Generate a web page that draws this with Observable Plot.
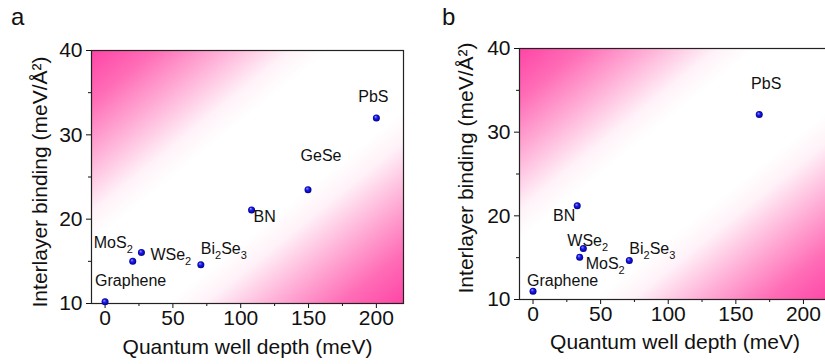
<!DOCTYPE html>
<html><head><meta charset="utf-8">
<script src="https://cdn.jsdelivr.net/npm/d3@7"></script>
<script src="https://cdn.jsdelivr.net/npm/@observablehq/plot@0.6"></script>
<style>
html,body{margin:0;padding:0;background:#fff;overflow:hidden;}
#wrap{position:relative;width:825px;height:364px;overflow:hidden;font-family:"Liberation Sans",Arial,sans-serif;color:#111;}
.panel{position:absolute;top:0;}
.tag{position:absolute;top:5px;font-size:24px;line-height:24px;color:#111;}
</style>
</head><body>
<div id="wrap">
  <div class="tag" style="left:11px">a</div>
  <div class="tag" style="left:442px">b</div>
</div>
<script>
// ---- data ----
const materialsA = ["Graphene", "MoS2", "WSe2", "Bi2Se3", "BN", "GeSe", "PbS"];
const wellDepthA = [0, 20.4, 26.8, 70.6, 108, 149.6, 200];
const bindingA   = [10.2, 15.0, 16.05, 14.6, 21.1, 23.5, 32.0];

const materialsB = ["Graphene", "BN", "WSe2", "MoS2", "Bi2Se3", "PbS"];
const wellDepthB = [0, 32.7, 37.2, 34.5, 71.2, 167.3];
const bindingB   = [11.0, 21.2, 16.1, 15.05, 14.66, 32.1];

const xTicks = [0, 50, 100, 150, 200];
const xMinorTicks = [25, 75, 125, 175];
const yTicks = [10, 20, 30, 40];
const yMinorTicks = [15, 25, 35];
const xTitle = "Quantum well depth (meV)";
const yTitle = "Interlayer binding (meV/Å²)";

// ---- label layout (pixel offsets from each point) ----
const labelLayoutA = [
  {anchor: "start", dx: -10, dy: -21},
  {anchor: "start", dx: -39, dy: -18},
  {anchor: "start", dx: 9, dy: 2},
  {anchor: "start", dx: 0, dy: -16},
  {anchor: "start", dx: 2, dy: 7},
  {anchor: "middle", dx: 13, dy: -34},
  {anchor: "middle", dx: -3, dy: -21}
];
const labelLayoutB = [
  {anchor: "start", dx: -6, dy: -10},
  {anchor: "end", dx: -2, dy: 10},
  {anchor: "start", dx: -16, dy: -8},
  {anchor: "start", dx: 6, dy: 7},
  {anchor: "start", dx: 0, dy: -12},
  {anchor: "middle", dx: 7, dy: -31}
];

const FONT = '"Liberation Sans", Arial, sans-serif';
const ns = "http://www.w3.org/2000/svg";

function makePanel(cfg) {
  const data = cfg.names.map((n, i) => ({name: n, x: cfg.xs[i], y: cfg.ys[i]}));
  const labelMarks = data.map((d, i) => Plot.text([d], {
    x: "x", y: "y", text: "name",
    textAnchor: cfg.layout[i].anchor, lineAnchor: "middle",
    dx: cfg.layout[i].dx, dy: cfg.layout[i].dy,
    fontSize: 16, fill: "#111", className: "sub-label"
  }));
  const svg = Plot.plot({
    width: cfg.width, height: 364,
    marginLeft: cfg.ml, marginRight: cfg.mr, marginTop: cfg.mt, marginBottom: cfg.mb,
    x: {domain: [-10, 220]},
    y: {domain: [10, 40]},
    style: {fontFamily: FONT, fontSize: "21px", background: "transparent", color: "#111", overflow: "visible"},
    marks: [
      Plot.frame({fill: `url(#bg${cfg.id})`, stroke: null}),
      Plot.axisX(xTicks, {tickSize: 5, tickPadding: 2, label: null, fontSize: 21}),
      Plot.axisX(xMinorTicks, {tickSize: 3, tickFormat: () => "", label: null}),
      Plot.axisY(yTicks, {tickSize: 5, tickPadding: 4, label: null, fontSize: 21}),
      Plot.axisY(yMinorTicks, {tickSize: 3, tickFormat: () => "", label: null}),
      Plot.frame({stroke: "#222", strokeWidth: 1.2}),
      Plot.dot(data, {x: "x", y: "y", r: 3.5, fill: `url(#ball${cfg.id})`}),
      ...labelMarks,
      Plot.text([xTitle], {text: d => d, frameAnchor: "bottom", textAnchor: "middle", lineAnchor: "middle", dy: cfg.xdy, fontSize: 21, fill: "#111"}),
      Plot.text([yTitle], {text: d => d, frameAnchor: "left", textAnchor: "middle", rotate: -90, lineAnchor: "middle", dx: cfg.ydx, dy: cfg.ydy, fontSize: 21, fill: "#111"})
    ]
  });
  const defs = document.createElementNS(ns, "defs");
  defs.innerHTML = `
    <linearGradient id="bg${cfg.id}" x1="0" y1="0" x2="1" y2="1">
      <stop offset="0" stop-color="#ff45a6"/>
      <stop offset="0.1" stop-color="#ff6cb6"/>
      <stop offset="0.22" stop-color="#ffb4d9"/>
      <stop offset="0.32" stop-color="#fff2f8"/>
      <stop offset="0.38" stop-color="#ffffff"/>
      <stop offset="0.62" stop-color="#ffffff"/>
      <stop offset="0.68" stop-color="#fff2f8"/>
      <stop offset="0.78" stop-color="#ffb4d9"/>
      <stop offset="0.9" stop-color="#ff6cb6"/>
      <stop offset="1" stop-color="#ff45a6"/>
    </linearGradient>
    <radialGradient id="ball${cfg.id}" cx="0.5" cy="0.5" r="0.5" fx="0.35" fy="0.3">
      <stop offset="0" stop-color="#9a9aff"/>
      <stop offset="0.45" stop-color="#1a1aee"/>
      <stop offset="1" stop-color="#00008a"/>
    </radialGradient>`;
  svg.insertBefore(defs, svg.firstChild);
  // subscripts for chemical formulas
  svg.querySelectorAll(".sub-label text").forEach(el => {
    const t = el.textContent;
    if (!/\d/.test(t)) return;
    el.textContent = "";
    const parts = t.match(/\d+|\D+/g);
    let shifted = false;
    parts.forEach(p => {
      const ts = document.createElementNS(ns, "tspan");
      ts.textContent = p;
      if (/\d/.test(p)) {
        ts.setAttribute("font-size", "11");
        ts.setAttribute("dy", "5");
        shifted = true;
      } else if (shifted) {
        ts.setAttribute("dy", "-5");
        shifted = false;
      }
      el.appendChild(ts);
    });
  });
  svg.classList.add("panel");
  svg.style.left = cfg.left + "px";
  document.getElementById("wrap").appendChild(svg);
}

makePanel({id: "A", names: materialsA, xs: wellDepthA, ys: bindingA, layout: labelLayoutA,
  left: 0, width: 415, ml: 91, mr: 12, mt: 50, mb: 61, xdy: 44, ydx: -51, ydy: 5});
makePanel({id: "B", names: materialsB, xs: wellDepthB, ys: bindingB, layout: labelLayoutB,
  left: 420, width: 420, ml: 99, mr: 10, mt: 48, mb: 65, xdy: 43, ydx: -53, ydy: -6});
</script>
</body></html>
